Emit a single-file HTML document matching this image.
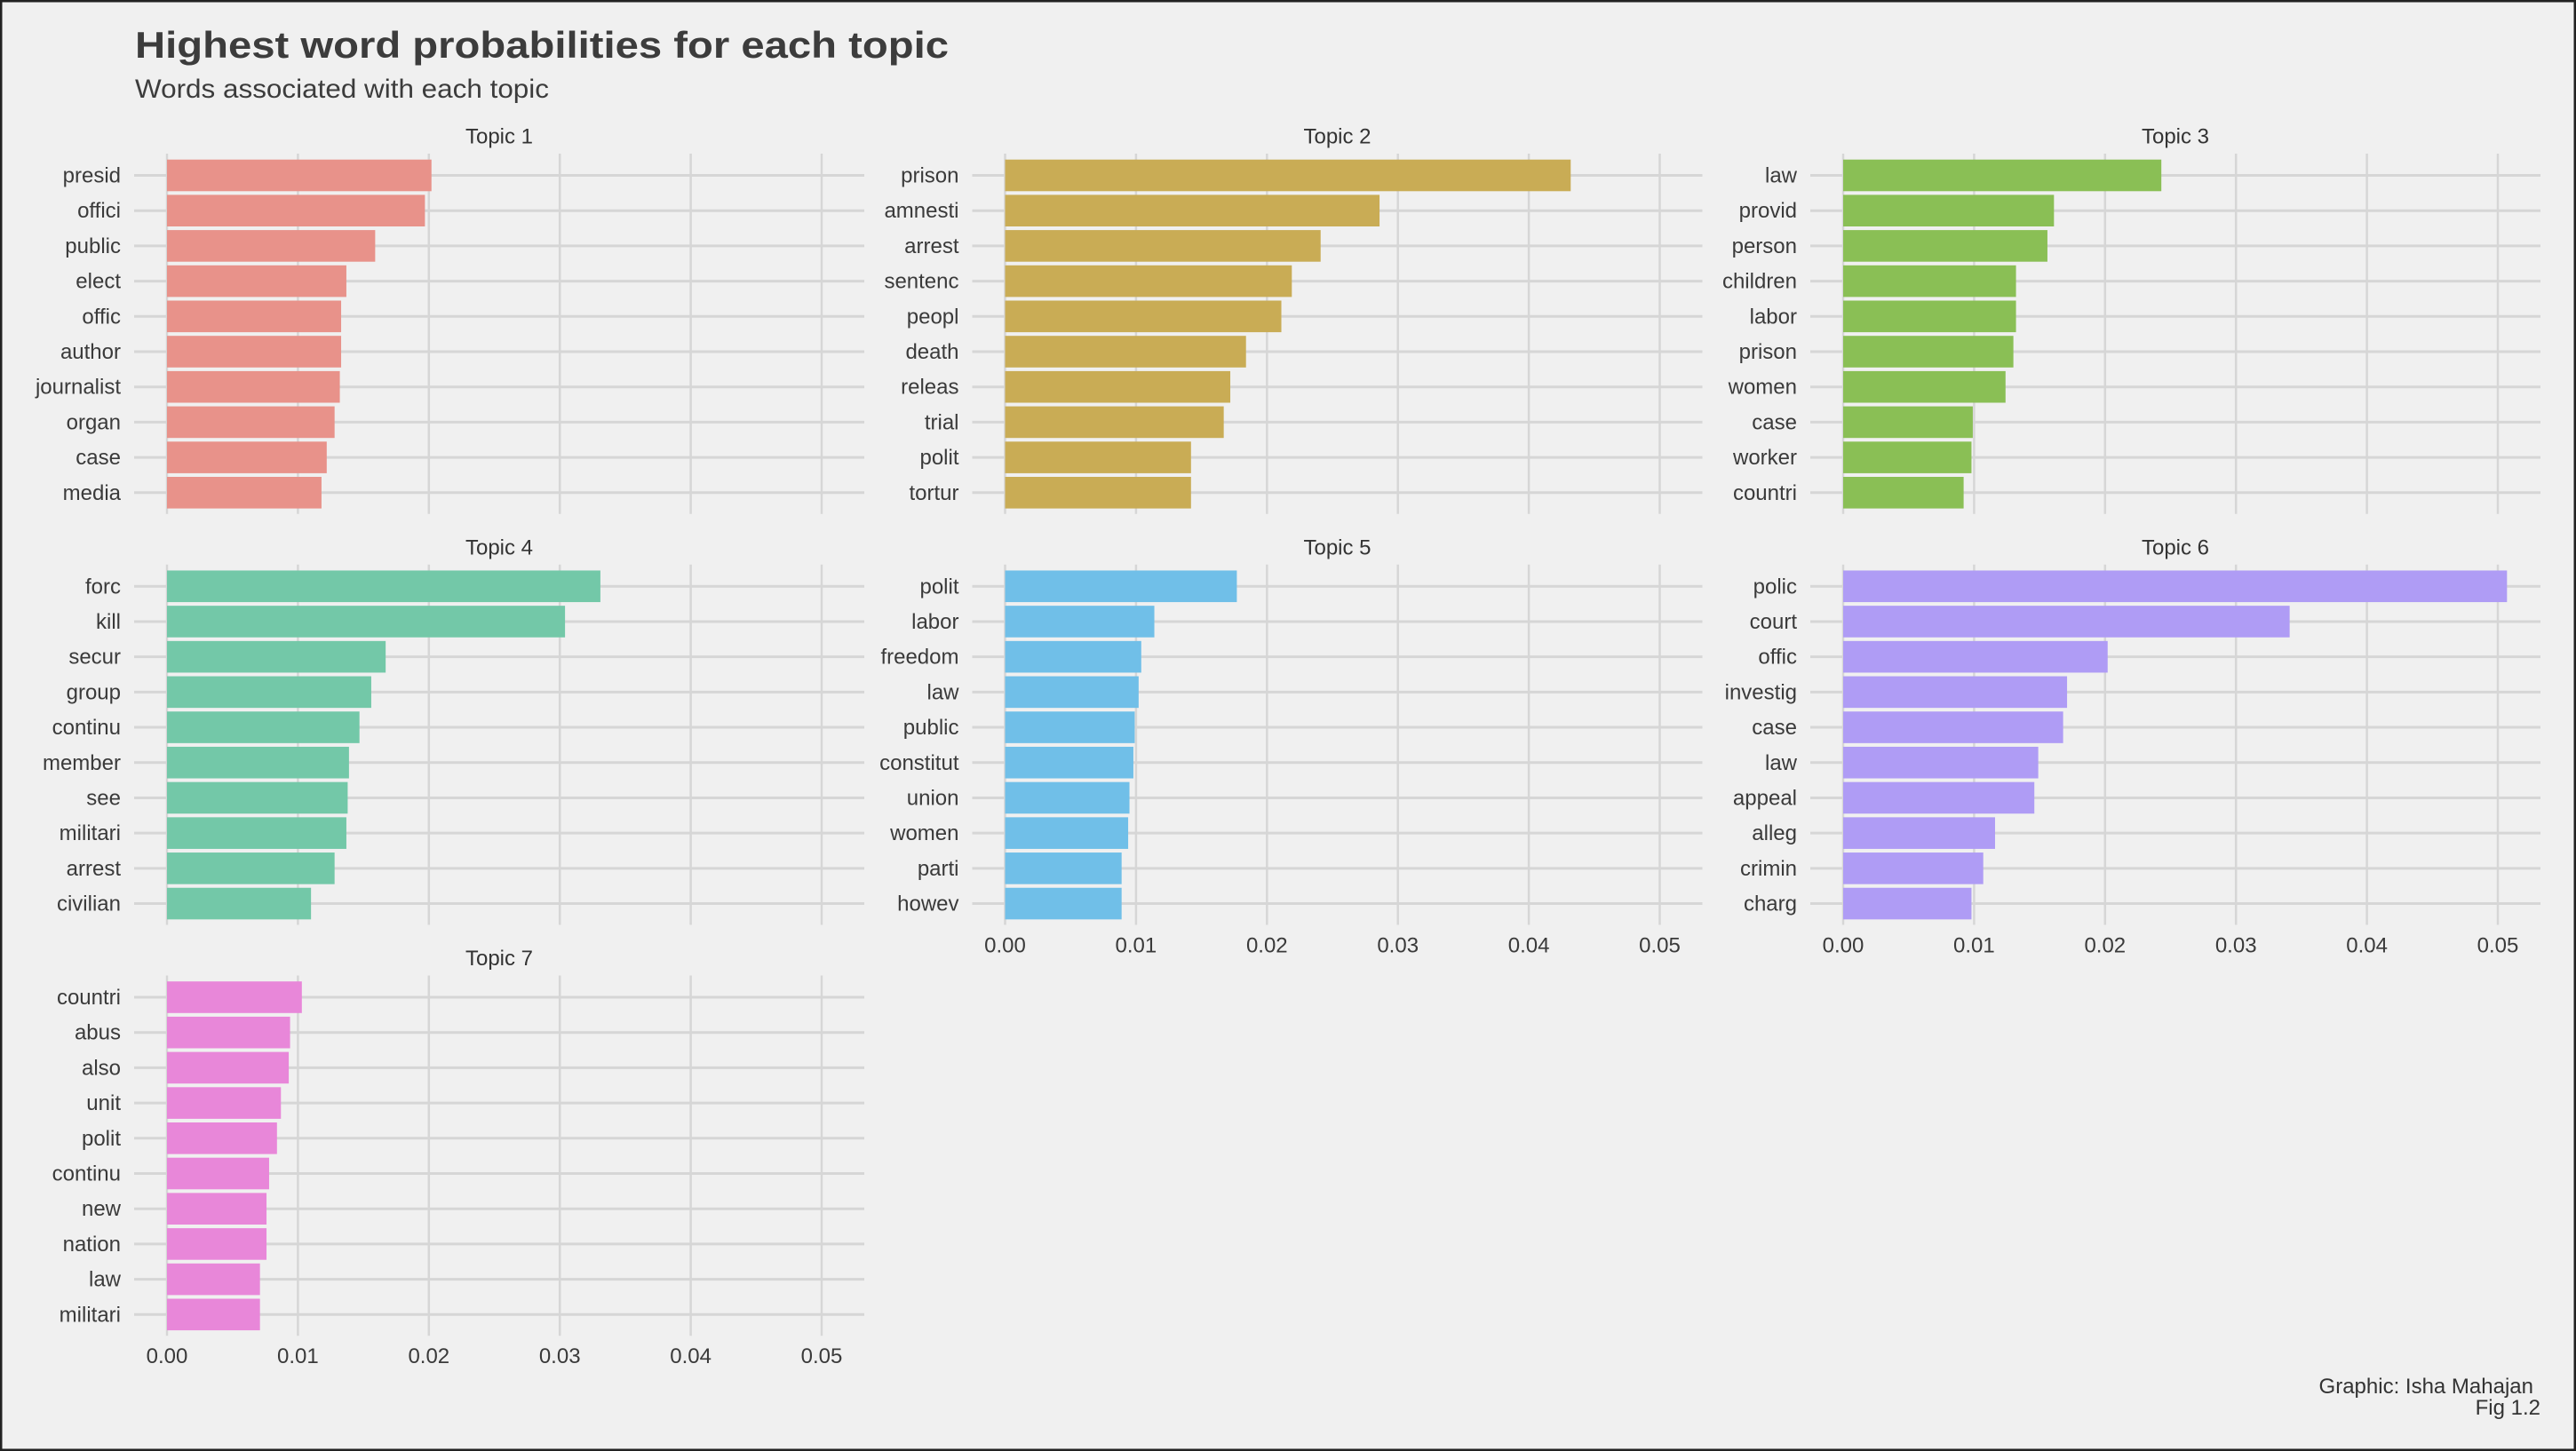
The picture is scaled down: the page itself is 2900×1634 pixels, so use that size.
<!DOCTYPE html>
<html><head><meta charset="utf-8"><style>
html,body{margin:0;padding:0;background:#f0f0f0}
svg{display:block;font-family:"Liberation Sans",Arial,sans-serif}
</style></head><body>
<svg id="chart" width="2900" height="1634" viewBox="0 0 2900 1634">
<rect x="1" y="1" width="2898" height="1632" fill="#f0f0f0" stroke="#222" stroke-width="3"/>
<text x="152" y="65" font-size="42" font-weight="bold" fill="#3c3c3c" textLength="916" lengthAdjust="spacingAndGlyphs">Highest word probabilities for each topic</text>
<text x="152" y="110" font-size="30" fill="#3c3c3c" textLength="466" lengthAdjust="spacingAndGlyphs">Words associated with each topic</text>
<text x="2852" y="1569" font-size="24" fill="#333" text-anchor="end">Graphic: Isha Mahajan</text>
<text x="2860" y="1593" font-size="24" fill="#333" text-anchor="end">Fig 1.2</text>
<g id="panels"></g>
</svg>
<script>
const topicNames = ["Topic 1","Topic 2","Topic 3","Topic 4","Topic 5","Topic 6","Topic 7"];
const words1 = ["presid","offici","public","elect","offic","author","journalist","organ","case","media"];
const values1 = [0.0202,0.0197,0.0159,0.0137,0.0133,0.0133,0.0132,0.0128,0.0122,0.0118];
const words2 = ["prison","amnesti","arrest","sentenc","peopl","death","releas","trial","polit","tortur"];
const values2 = [0.0432,0.0286,0.0241,0.0219,0.0211,0.0184,0.0172,0.0167,0.0142,0.0142];
const words3 = ["law","provid","person","children","labor","prison","women","case","worker","countri"];
const values3 = [0.0243,0.0161,0.0156,0.0132,0.0132,0.0130,0.0124,0.0099,0.0098,0.0092];
const words4 = ["forc","kill","secur","group","continu","member","see","militari","arrest","civilian"];
const values4 = [0.0331,0.0304,0.0167,0.0156,0.0147,0.0139,0.0138,0.0137,0.0128,0.0110];
const words5 = ["polit","labor","freedom","law","public","constitut","union","women","parti","howev"];
const values5 = [0.0177,0.0114,0.0104,0.0102,0.0099,0.0098,0.0095,0.0094,0.0089,0.0089];
const words6 = ["polic","court","offic","investig","case","law","appeal","alleg","crimin","charg"];
const values6 = [0.0507,0.0341,0.0202,0.0171,0.0168,0.0149,0.0146,0.0116,0.0107,0.0098];
const words7 = ["countri","abus","also","unit","polit","continu","new","nation","law","militari"];
const values7 = [0.0103,0.0094,0.0093,0.0087,0.0084,0.0078,0.0076,0.0076,0.0071,0.0071];
const tickValues = [0,0.01,0.02,0.03,0.04,0.05];
const tickLabels = ["0.00","0.01","0.02","0.03","0.04","0.05"];
const colors = ["#E8928A","#C9AC55","#8ABF55","#73C8A8","#70BFE8","#AF9CF5","#E887D9"];

const allWords=[words1,words2,words3,words4,words5,words6,words7];
const allValues=[values1,values2,values3,values4,values5,values6,values7];
const NS="http://www.w3.org/2000/svg";
const root=document.getElementById('panels');
function mk(tag,attrs,parent){const e=document.createElementNS(NS,tag);for(const k in attrs)e.setAttribute(k,attrs[k]);parent.appendChild(e);return e;}
const SCALE=14740;
const ROW=39.7;
for(let p=0;p<7;p++){
  const col=p%3,row=Math.floor(p/3);
  const x0=188+943.5*col;
  const yFirst=197.5+462.75*row;
  const xs=v=>x0+v*SCALE;
  const ys=i=>yFirst+i*ROW;
  const g=mk('g',{},root);
  
  
  const st=mk('text',{x:x0+374,y:yFirst-36,'font-size':24,fill:'#333','text-anchor':'middle'},g);
  
  
  st.textContent=topicNames[p];
  const top=yFirst-24.5,bot=ys(9)+24;
  tickValues.forEach(t=>{
    const l=mk('line',{x1:xs(t),x2:xs(t),y1:top,y2:bot,stroke:'#d6d6d6','stroke-width':2.5},g);
    
    
  });
  const ws=allWords[p],vs=allValues[p];
  ws.forEach((w,i)=>{
    const l=mk('line',{x1:x0-37,x2:x0+785,y1:ys(i),y2:ys(i),stroke:'#d6d6d6','stroke-width':3},g);
    
    
    const t=mk('text',{x:x0-52,y:ys(i)+8,'font-size':24,fill:'#3a3a3a','text-anchor':'end'},g);
    
    
    t.textContent=w;
  });
  ws.forEach((w,i)=>{
    const r=mk('rect',{x:xs(0),y:ys(i)-17.8,width:xs(vs[i])-xs(0),height:35.6,fill:colors[p]},g);
    
    
  });
  if(p>=4){
    tickValues.forEach((t,k)=>{
      const tx=mk('text',{x:xs(t),y:yFirst+412,'font-size':24,fill:'#3a3a3a','text-anchor':'middle'},g);
      
      
      tx.textContent=tickLabels[k];
    });
  }
}
</script>
</body></html>
